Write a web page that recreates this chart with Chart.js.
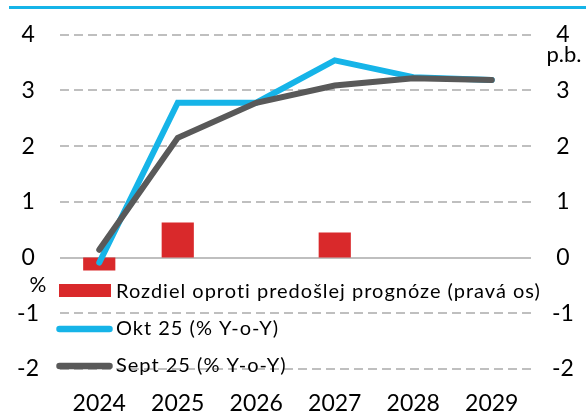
<!DOCTYPE html>
<html><head><meta charset="utf-8">
<script src="https://cdn.jsdelivr.net/npm/chart.js@4/dist/chart.umd.min.js"></script>
<style>html,body{margin:0;padding:0;background:#fff}#wrap{width:586px;height:414px;position:relative}</style>
</head><body><div id="wrap"><canvas id="c" width="586" height="414"></canvas></div>
<script>
const years = ['2024','2025','2026','2027','2028','2029'];
const okt25 = [-0.09, 2.78, 2.78, 3.54, 3.24, 3.19];
const sept25 = [0.14, 2.15, 2.78, 3.09, 3.22, 3.19];
const diffPrev = [-0.23, 0.63, 0, 0.45, 0, 0];
const yTicks = [4, 3, 2, 1, 0, -1, -2];
const labelsText = ['Rozdiel oproti predošlej prognóze (pravá os)', 'Okt 25 (% Y-o-Y)', 'Sept 25 (% Y-o-Y)'];

const FONT = 'Lato';
const BLUE = '#16b4e8', GRAY = '#595959', RED = '#d9292b', GRID = '#bfbfbf';

const extras = {
  id: 'extras',
  afterDatasetsDraw(chart) {
    const ctx = chart.ctx;
    ctx.save();
    // top rule
    ctx.fillStyle = BLUE;
    ctx.fillRect(9, 6, 577, 3);
    // unit labels
    ctx.fillStyle = '#000';
    ctx.textAlign = 'center';
    ctx.textBaseline = 'middle';
    ctx.font = '21px ' + FONT;
    ctx.fillText('%', 38, 285);
    ctx.font = '22px ' + FONT;
    ctx.fillText('p.b.', 564, 55);
    // legend
    const ds = chart.data.datasets;
    const rows = [292, 329, 366];
    ctx.textAlign = 'left';
    ctx.font = '20px ' + FONT;
    // bar item
    ctx.fillStyle = ds[0].backgroundColor;
    ctx.fillRect(59, 284, 52, 13);
    [1, 2].forEach(i => {
      ctx.strokeStyle = ds[i].borderColor;
      ctx.lineWidth = 6.5;
      ctx.lineCap = 'round';
      ctx.beginPath();
      ctx.moveTo(59.5, rows[i]);
      ctx.lineTo(109.5, rows[i]);
      ctx.stroke();
    });
    ctx.fillStyle = '#000';
    try { ctx.letterSpacing = '1px'; } catch (e) {}
    [0, 1, 2].forEach(i => ctx.fillText(ds[i].label, 116, rows[i]));
    ctx.restore();
  }
};

new Chart(document.getElementById('c'), {
  type: 'bar',
  data: {
    labels: years,
    datasets: [
      { type: 'bar', label: labelsText[0], data: diffPrev, backgroundColor: RED, yAxisID: 'y2', order: 2,
        categoryPercentage: 1, barPercentage: 0.41 },
      { type: 'line', label: labelsText[1], data: okt25, borderColor: BLUE, borderWidth: 6, pointRadius: 0,
        tension: 0, borderCapStyle: 'round', borderJoinStyle: 'miter', yAxisID: 'y', order: 1 },
      { type: 'line', label: labelsText[2], data: sept25, borderColor: GRAY, borderWidth: 6, pointRadius: 0,
        tension: 0, borderCapStyle: 'round', borderJoinStyle: 'miter', yAxisID: 'y', order: 0 }
    ]
  },
  options: {
    responsive: false,
    animation: false,
    layout: { padding: { top: 32, left: 0, right: 0, bottom: 0 } },
    plugins: { legend: { display: false }, tooltip: { enabled: false } },
    scales: {
      x: {
        offset: true,
        grid: { display: false, drawTicks: false },
        border: { display: false },
        ticks: { color: '#000', font: { family: FONT, size: 23 }, padding: 21, maxRotation: 0 },
        afterFit(s) { s.height = 45; }
      },
      y: {
        position: 'left', min: -2, max: 4,
        afterBuildTicks(s) { s.ticks = yTicks.map(v => ({ value: v })); },
        grid: { color: GRID, lineWidth: 2, drawTicks: false },
        border: { display: false, dash: (c) => (c.tick && c.tick.value === 0) ? [] : [9, 5] },
        ticks: { color: '#000', font: { family: FONT, size: 23 }, padding: 21, crossAlign: 'center' },
        afterFit(s) { s.width = 60; }
      },
      y2: {
        position: 'right', min: -2, max: 4,
        afterBuildTicks(s) { s.ticks = yTicks.map(v => ({ value: v })); },
        grid: { display: false, drawTicks: false },
        border: { display: false },
        ticks: { color: '#000', font: { family: FONT, size: 23 }, padding: 21, crossAlign: 'center' },
        afterFit(s) { s.width = 55; }
      }
    }
  },
  plugins: [extras]
});
</script>
</body></html>
